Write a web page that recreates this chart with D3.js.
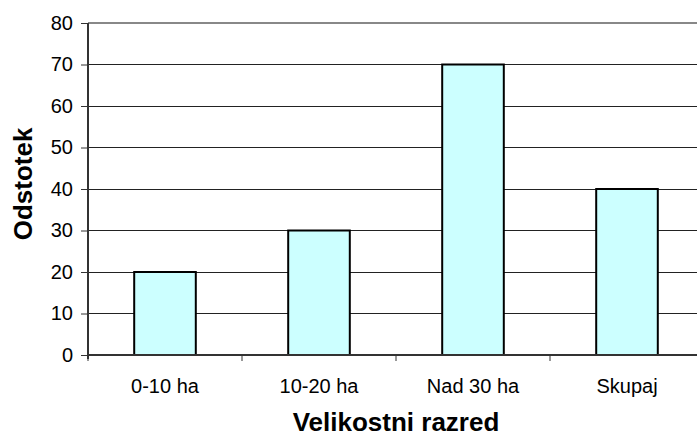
<!DOCTYPE html>
<html><head><meta charset="utf-8">
<script src="https://cdn.jsdelivr.net/npm/d3@7"></script>
<style>body{margin:0;background:#fff}svg{display:block}text{font-family:Arial,"Liberation Sans",sans-serif}</style>
</head><body>
<svg id="c" width="697" height="437"></svg>
<script>
const categories = ["0-10 ha", "10-20 ha", "Nad 30 ha", "Skupaj"];
const values = [20, 30, 70, 40];
const yTicks = [0, 10, 20, 30, 40, 50, 60, 70, 80];

(function () {
const svg = d3.select("#c");
const mL = 88, mR = 704, mT = 23, mB = 355;
const x = d3.scaleBand().domain(categories).range([mL, mR]).paddingInner(0).paddingOuter(0);
const y = d3.scaleLinear().domain([0, 80]).range([mB, mT]);

// gridlines
svg.append("g").selectAll("line").data(yTicks.filter(t => t > 0)).join("line")
  .attr("x1", mL).attr("x2", 697).attr("y1", d => y(d)).attr("y2", d => y(d))
  .attr("stroke", d => d === 80 ? "#888" : "#222").attr("stroke-width", d => d === 80 ? 2 : 1)
  .attr("shape-rendering", "crispEdges");

// bars
const bw = x.bandwidth() * 0.4;
svg.append("g").selectAll("rect").data(values).join("rect")
  .attr("x", (d, i) => x(categories[i]) + (x.bandwidth() - bw) / 2)
  .attr("y", d => y(d))
  .attr("width", bw)
  .attr("height", d => y(0) - y(d))
  .attr("fill", "#CCFFFF").attr("stroke", "#000").attr("stroke-width", 2);

// y axis
const ya = svg.append("g").attr("transform", `translate(${mL},0)`)
  .call(d3.axisLeft(y).tickValues(yTicks).tickSize(7).tickPadding(8));
ya.select(".domain").attr("stroke", "#333").attr("stroke-width", 2).attr("d", `M0,${mT}V${mB + 4}`);
ya.selectAll(".tick line").attr("stroke", "#333").attr("stroke-width", 1);
ya.selectAll(".tick text").attr("font-size", 20).attr("fill", "#000").attr("font-family", "Arial, 'Liberation Sans', sans-serif");

// x axis
const xa = svg.append("g").attr("transform", `translate(0,${mB})`);
xa.append("line").attr("x1", mL).attr("x2", 697).attr("y1", 0).attr("y2", 0).attr("stroke", "#333").attr("stroke-width", 2);
const xTickPos = categories.map(c => x(c)).concat([mR]);
xa.selectAll(".xt").data(xTickPos).join("line").attr("class", "xt")
  .attr("x1", d => d).attr("x2", d => d).attr("y1", 0).attr("y2", 6).attr("stroke", "#333").attr("stroke-width", 1);
xa.selectAll(".xl").data(categories).join("text").attr("class", "xl")
  .attr("x", d => x(d) + x.bandwidth() / 2).attr("y", 38)
  .attr("text-anchor", "middle").attr("font-size", 20).attr("fill", "#000").text(d => d);

// titles
svg.append("text").attr("x", 396).attr("y", 431).attr("text-anchor", "middle")
  .attr("font-size", 26).attr("font-weight", "bold").text("Velikostni razred");
svg.append("text").attr("transform", `translate(32,184) rotate(-90)`)
  .attr("text-anchor", "middle").attr("font-size", 26).attr("font-weight", "bold").text("Odstotek");
})();
</script>
</body></html>
